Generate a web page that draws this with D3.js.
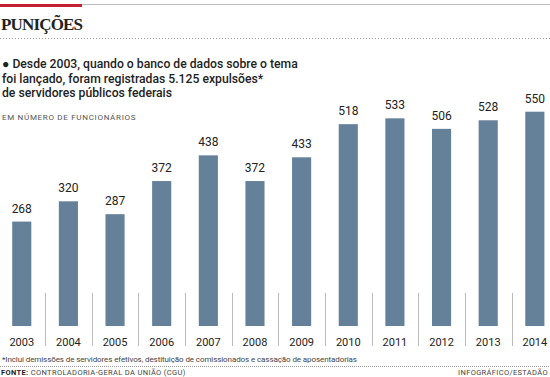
<!DOCTYPE html>
<html>
<head>
<meta charset="utf-8">
<script src="https://cdn.jsdelivr.net/npm/d3@7"></script>
<style>
  body { margin: 0; background: #fff; }
  svg { display: block; }
</style>
</head>
<body>
<svg width="550" height="377"></svg>
<script>
// expulsões por ano (CGU)
const years = ['2003', '2004', '2005', '2006', '2007', '2008', '2009', '2010', '2011', '2012', '2013', '2014'];
const expulsions = [268, 320, 287, 372, 438, 372, 433, 518, 533, 506, 528, 550];

const subtitleLines = [
  '\u25CF Desde 2003, quando o banco de dados sobre o tema',
  'foi lançado, foram registradas 5.125 expulsões*',
  'de servidores públicos federais'
];

const svg = d3.select('svg');
const font = 'Roboto, "Liberation Sans", sans-serif';
const barColor = '#65819a';

// header
svg.append('rect').attr('x', 0).attr('y', 4).attr('width', 550).attr('height', 1).attr('fill', '#bbb');
svg.append('rect').attr('x', 0).attr('y', 4).attr('width', 82).attr('height', 3).attr('fill', '#c42032');

svg.append('text')
  .attr('x', 1).attr('y', 30)
  .attr('font-family', '"Liberation Serif", serif')
  .attr('font-weight', 'bold')
  .attr('font-size', '17px')
  .attr('textLength', 82)
  .attr('fill', '#222')
  .text('PUNIÇÕES');

svg.append('line')
  .attr('x1', 0).attr('x2', 550).attr('y1', 38.5).attr('y2', 38.5)
  .attr('stroke', '#999').attr('stroke-dasharray', '1,2');

svg.selectAll('.sub')
  .data(subtitleLines)
  .enter()
  .append('text')
  .attr('class', 'sub')
  .attr('x', 2)
  .attr('y', (d, i) => 68 + i * 14.7)
  .attr('font-family', font)
  .attr('font-weight', 500)
  .attr('font-size', '12.2px')
  .attr('fill', '#222')
  .text(d => d);

svg.append('text')
  .attr('x', 2).attr('y', 120)
  .attr('font-family', font)
  .attr('font-size', '8px')
  .attr('letter-spacing', '0.7px')
  .attr('fill', '#555')
  .text('EM NÚMERO DE FUNCIONÁRIOS');

// chart
const xScale = d3.scaleBand()
  .domain(years)
  .range([-1.8, 558.4])
  .paddingInner(0.59)
  .paddingOuter(0.3);

const yScale = d3.scaleLinear()
  .domain([0, 550])
  .range([326, 111.7]);

const step = xScale.step();

svg.selectAll('.bar')
  .data(expulsions)
  .enter()
  .append('rect')
  .attr('class', 'bar')
  .attr('x', (d, i) => xScale(years[i]))
  .attr('y', d => yScale(d))
  .attr('width', xScale.bandwidth())
  .attr('height', d => yScale(0) - yScale(d))
  .attr('fill', barColor);

svg.selectAll('.val')
  .data(expulsions)
  .enter()
  .append('text')
  .attr('class', 'val')
  .attr('x', (d, i) => xScale(years[i]) + xScale.bandwidth() / 2)
  .attr('y', d => yScale(d) - 9)
  .attr('text-anchor', 'middle')
  .attr('font-family', font)
  .attr('font-size', '12px')
  .attr('fill', '#222')
  .text(d => d);

// year axis, with separators between years
const axis = svg.append('g')
  .attr('transform', `translate(0, ${yScale(0)})`)
  .call(d3.axisBottom(xScale).tickSize(0).tickPadding(12));
axis.select('.domain').remove();
axis.selectAll('text')
  .attr('font-family', font)
  .attr('font-size', '11px')
  .attr('fill', '#222');

svg.selectAll('.sep')
  .data(years.slice(1))
  .enter()
  .append('line')
  .attr('class', 'sep')
  .attr('x1', d => Math.round(xScale(d) - (step - xScale.bandwidth()) / 2) + 0.5)
  .attr('x2', d => Math.round(xScale(d) - (step - xScale.bandwidth()) / 2) + 0.5)
  .attr('y1', 293).attr('y2', 346)
  .attr('stroke', '#bbb');

// footer
svg.append('text')
  .attr('x', 2).attr('y', 362)
  .attr('font-family', font)
  .attr('font-size', '8px')
  .attr('textLength', 355)
  .attr('fill', '#444')
  .text('*Inclui demissões de servidores efetivos, destituição de comissionados e cassação de aposentadorias');

svg.append('line')
  .attr('x1', 0).attr('x2', 550).attr('y1', 366.5).attr('y2', 366.5)
  .attr('stroke', '#999').attr('stroke-dasharray', '1,1');

const src = svg.append('text')
  .attr('x', 1).attr('y', 375)
  .attr('font-family', font)
  .attr('font-size', '7.5px')
  .attr('letter-spacing', '0.35px')
  .attr('fill', '#444');
src.append('tspan').attr('font-weight', 'bold').attr('fill', '#222').text('FONTE: ');
src.append('tspan').text('CONTROLADORIA-GERAL DA UNIÃO (CGU)');

svg.append('text')
  .attr('x', 548).attr('y', 375)
  .attr('text-anchor', 'end')
  .attr('font-family', font)
  .attr('font-size', '7.5px')
  .attr('letter-spacing', '0.35px')
  .attr('fill', '#444')
  .text('INFOGRÁFICO/ESTADÃO');
</script>
</body>
</html>
